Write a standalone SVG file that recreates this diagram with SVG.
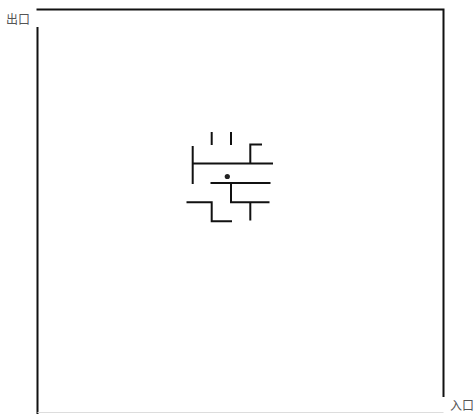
<svg xmlns="http://www.w3.org/2000/svg" width="475" height="414" viewBox="0 0 475 414">
<style>
.w{stroke:#111;stroke-width:2;fill:none;stroke-linecap:square}
.m{stroke:#111;stroke-width:2;fill:none;stroke-linecap:butt}
.t{font-family:"Noto Sans CJK SC","Noto Sans CJK JP",sans-serif;font-size:12px;fill:#555}
</style>
<rect width="475" height="414" fill="#fff"/>
<g id="frame">
<path class="w" d="M37.5 28 V414"/>
<path class="w" d="M37.5 9.5 H443.5 V396"/>
<path d="M37.5 412.5 H443.5" stroke="#ddd" stroke-width="1"/>
</g>
<g id="walls">
<path class="m" d="M211.7 132 V145"/>
<path class="m" d="M231 132 V145"/>
<path class="m" d="M192.7 146 V184"/>
<path class="m" d="M192.7 163.5 H273"/>
<path class="m" d="M250.3 164 V144.5 H262"/>
<path class="m" d="M210.5 183 H270.5"/>
<path class="m" d="M231 183 V202.3 H269.5"/>
<path class="m" d="M250.3 202 V220.5"/>
<path class="m" d="M186.5 202.3 H211.7 V221.3 H232"/>
</g>
<g id="ball"><circle cx="227.3" cy="176.5" r="2.6" fill="#222"/></g>
<g id="labels">
<text class="t" x="6" y="24">出口</text>
<text class="t" x="450" y="410">入口</text>
</g>
</svg>
